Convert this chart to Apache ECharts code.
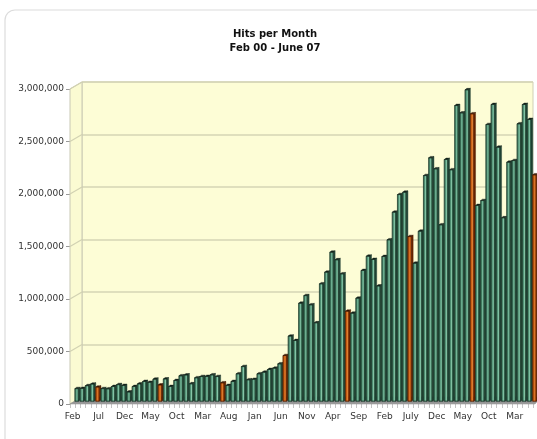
<!DOCTYPE html>
<html>
<head>
<meta charset="utf-8">
<script src="https://cdn.jsdelivr.net/npm/echarts@6/dist/echarts.min.js"></script>
<style>
  html, body { margin: 0; padding: 0; background: #fff; }
  #main { width: 537px; height: 439px; }
</style>
</head>
<body>
<div id="main"></div>
<script>
// months Feb 00 .. Jun 07
var monthNames = ['Jan','Feb','Mar','Apr','May','Jun','Jul','Aug','Sep','Oct','Nov','Dec'];
var startYear = 2000, startMonth = 1, monthCount = 89;

// labels shown under every 5th bar
var tickLabels = ['Feb','Jul','Dec','May','Oct','Mar','Aug','Jan','Jun','Nov',
                  'Apr','Sep','Feb','July','Dec','May','Oct','Mar'];

// hits per month
var hits2000 = [120000,122000,148000,163000,135000,120000,118000,140000,158000,150000,88000];
var hits2001 = [140000,165000,188000,180000,210000,155000,212000,140000,197000,242000,250000,166000];
var hits2002 = [223000,235000,236000,251000,235000,175000,150000,188000,261000,330000,204000,208000];
var hits2003 = [261000,276000,302000,314000,356000,435000,620000,578000,933000,1006000,918000,747000];
var hits2004 = [1118000,1229000,1419000,1347000,1213000,857000,838000,981000,1245000,1381000,1350000,1098000];
var hits2005 = [1378000,1537000,1800000,1968000,1990000,1568000,1314000,1619000,2149000,2318000,2213000,1680000];
var hits2006 = [2302000,2204000,2816000,2746000,2966000,2737000,1864000,1911000,2635000,2826000,2419000,1747000];
var hits2007 = [2276000,2292000,2642000,2826000,2683000,2156000];

var hits = [].concat(hits2000, hits2001, hits2002, hits2003, hits2004, hits2005, hits2006, hits2007);

var categories = [];
for (var k = 0; k < monthCount; k++) {
    var m = (startMonth + k) % 12;
    var y = startYear + Math.floor((startMonth + k) / 12);
    categories.push(monthNames[m] + ' ' + String(y).slice(2));
}

var yTicks = [0, 500000, 1000000, 1500000, 2000000, 2500000, 3000000];

var chart = echarts.init(document.getElementById('main'));

function grad(cols) {
    return new echarts.graphic.LinearGradient(0, 0, 1, 0, [
        {offset: 0, color: cols[0]},
        {offset: 0.35, color: cols[1]},
        {offset: 0.6, color: cols[2]},
        {offset: 0.8, color: cols[3]},
        {offset: 1, color: cols[4]}
    ]);
}
var greenFront = ['#2f6a50', '#4e8f72', '#86c6a8', '#48876a', '#2a5944'];
var orangeFront = ['#a24204', '#cb6014', '#de8034', '#bb520c', '#873200'];

function renderBar(params, api) {
    var i = api.value(0), v = api.value(1);
    var top = api.coord([i, v]);
    var bot = api.coord([i, 0]);
    var isJune = categories[i].indexOf('Jun') === 0;
    var fw = 3.5, d = 1.8, dh = 1.4;
    var x0 = top[0] + 2.3, x1 = x0 + fw;
    var ft = top[1] - 2.8, fb = bot[1] - 2.8;
    return {
        type: 'group',
        children: [
            {type: 'polygon', shape: {points: [[x1, ft], [x1 + d, ft - dh], [x1 + d, fb - dh], [x1, fb]]},
             style: {fill: isJune ? '#6a2600' : '#254a3a', stroke: isJune ? '#4a1a00' : '#1a3328', lineWidth: 0.4}},
            {type: 'rect', shape: {x: x0, y: ft, width: fw, height: fb - ft},
             style: {fill: grad(isJune ? orangeFront : greenFront), stroke: isJune ? '#5a2000' : '#1c3a2d', lineWidth: 0.5}},
            {type: 'polygon', shape: {points: [[x0, ft], [x0 + d, ft - dh], [x1 + d, ft - dh], [x1, ft]]},
             style: {fill: isJune ? '#3a1500' : '#14241c', stroke: isJune ? '#3a1500' : '#14241c', lineWidth: 0.4}}
        ]
    };
}

var option = {
    backgroundColor: '#ffffff',
    animation: false,
    title: {
        text: 'Hits per Month\nFeb 00 - June 07',
        left: 270,
        top: 22,
        textAlign: 'center',
        textStyle: {fontFamily: 'DejaVu Sans', fontSize: 10, fontWeight: 'bold', color: '#111', lineHeight: 14}
    },
    grid: [
        {left: 82, right: 4, top: 82, bottom: 42, show: true, backgroundColor: '#fdfdd6',
         borderColor: '#cfcfb4', borderWidth: 1},
        {left: 70, right: 4, top: 89, bottom: 35}
    ],
    xAxis: [
        {type: 'category', gridIndex: 0, data: categories, show: false},
        {type: 'category', gridIndex: 1, data: categories,
         axisLine: {show: false},
         axisTick: {show: true, interval: 0, length: 4, lineStyle: {color: '#c4c4c4'}},
         axisLabel: {
             interval: 4, margin: 8,
             fontFamily: 'DejaVu Sans', fontSize: 9, color: '#333',
             formatter: function (val, idx) { return tickLabels[idx / 5] || ''; }
         }}
    ],
    yAxis: [
        {type: 'value', gridIndex: 0, min: 0, max: 3000000, interval: 500000,
         axisLabel: {show: false}, axisLine: {show: false}, axisTick: {show: false},
         splitLine: {show: true, lineStyle: {color: '#d4d4b4', width: 1.5}}},
        {type: 'value', gridIndex: 1, min: 0, max: 3000000, interval: 500000,
         axisLine: {show: true, lineStyle: {color: '#b4b4b4'}},
         axisTick: {show: true, length: 4, lineStyle: {color: '#999'}},
         splitLine: {show: false},
         axisLabel: {fontFamily: 'DejaVu Sans', fontSize: 9, color: '#333', margin: 6,
                     formatter: function (v) { return v.toLocaleString('en-US'); }}}
    ],
    series: [{
        type: 'custom',
        xAxisIndex: 1,
        yAxisIndex: 1,
        z: 10,
        renderItem: renderBar,
        encode: {x: 0, y: 1},
        data: hits.map(function (v, i) { return [i, v]; })
    }]
};

chart.setOption(option);

// 3D decorations: outer frame, left wall, floor, wall connectors
var L = 70, R = 533, backL = 82;
var frontBase = chart.convertToPixel({yAxisIndex: 1}, 0);
var backBase = chart.convertToPixel({yAxisIndex: 0}, 0);
var frontTop = chart.convertToPixel({yAxisIndex: 1}, 3000000);
var backTop = chart.convertToPixel({yAxisIndex: 0}, 3000000);

var deco = [
    {type: 'rect', z: -10, shape: {x: 5, y: 10, width: 600, height: 500, r: 10},
     style: {fill: '#fff', stroke: '#dcdcdc', lineWidth: 1.2}},
    {type: 'polygon', z: 1,
     shape: {points: [[L, frontTop], [backL, backTop], [backL, backBase], [L, frontBase]]},
     style: {fill: '#fbfbd2', stroke: '#c8c8b4', lineWidth: 1}}
];
yTicks.forEach(function (v) {
    deco.push({type: 'line', z: 2,
        shape: {x1: L, y1: chart.convertToPixel({yAxisIndex: 1}, v),
                x2: backL, y2: chart.convertToPixel({yAxisIndex: 0}, v)},
        style: {stroke: '#d2d2b2', lineWidth: 1.2}});
});
deco.push({type: 'polygon', z: 3,
    shape: {points: [[L, frontBase], [backL, backBase], [R + 8, backBase], [R + 2, frontBase]]},
    style: {fill: new echarts.graphic.LinearGradient(0, 0, 0, 1, [
        {offset: 0, color: '#5a5a5a'}, {offset: 1, color: '#a8a8a8'}]), stroke: '#888', lineWidth: 0.5}});

chart.setOption({graphic: {elements: deco}});
</script>
</body>
</html>
